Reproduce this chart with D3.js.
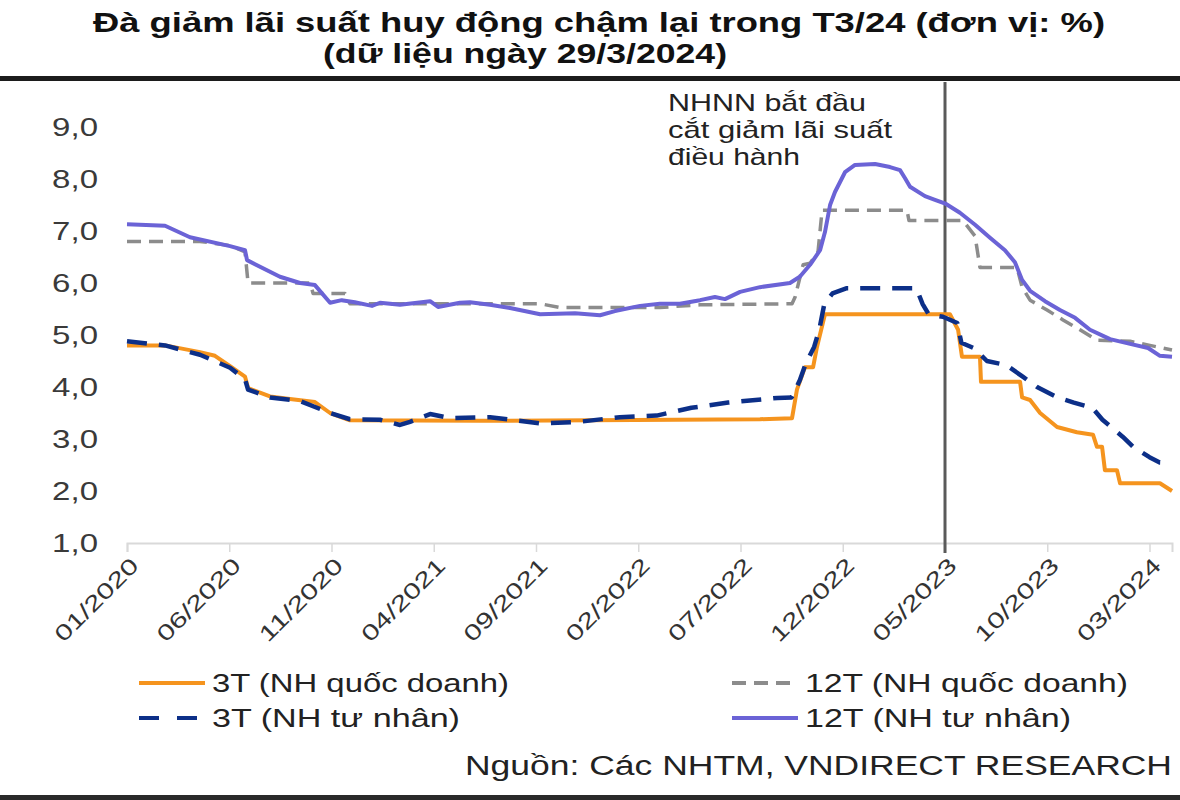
<!DOCTYPE html>
<html><head><meta charset="utf-8">
<script src="https://cdn.jsdelivr.net/npm/d3@7"></script>
<style>
body{margin:0;background:#fff}
svg{display:block}
text{font-family:"Liberation Sans", Arial, sans-serif}
</style>
</head><body>
<svg id="c" width="1180" height="800"></svg>
<script>
// ---- DATA (x = months since 01/2020) ----
const tickMonths = [0, 5, 10, 15, 20, 25, 30, 35, 40, 45, 50];
const tickLabels = ["01/2020","06/2020","11/2020","04/2021","09/2021","02/2022","07/2022","12/2022","05/2023","10/2023","03/2024"];
const yTicks = [1, 2, 3, 4, 5, 6, 7, 8, 9];
const yTickLabels = ["1,0","2,0","3,0","4,0","5,0","6,0","7,0","8,0","9,0"];

const s3State = [[0,4.8],[1.86,4.8],[3.57,4.67],[4.3,4.6],[5.04,4.4],[5.77,4.2],[5.92,3.98],[6.99,3.82],[7.97,3.77],[9.19,3.71],[9.93,3.5],[10.9,3.36],[17.26,3.35],[30.95,3.38],[32.52,3.4],[32.76,3.95],[33.15,4.38],[33.55,4.38],[33.74,4.77],[34.13,5.4],[40.24,5.4],[40.64,5.1],[40.83,4.58],[41.71,4.58],[41.76,4.1],[43.67,4.1],[43.77,3.8],[44.16,3.75],[44.65,3.5],[45.48,3.23],[46.45,3.13],[47.24,3.08],[47.43,2.85],[47.68,2.85],[47.82,2.4],[48.41,2.4],[48.56,2.15],[50.51,2.15],[51.1,2.0]];

const s12State = [[0,6.8],[3.57,6.8],[5.04,6.72],[5.77,6.6],[5.92,6.0],[8.95,6.0],[9.1,5.8],[10.66,5.8],[10.9,5.6],[20.2,5.6],[21.17,5.53],[26.06,5.53],[28.02,5.58],[32.52,5.6],[32.67,5.73],[33.06,6.35],[33.4,6.38],[33.79,6.6],[33.99,7.4],[38.14,7.4],[38.24,7.2],[40.88,7.2],[41.47,6.9],[41.71,6.3],[43.52,6.3],[43.77,5.92],[44.16,5.67],[44.99,5.48],[45.77,5.29],[46.6,5.1],[47.43,4.9],[49.05,4.88],[50.02,4.8],[51.1,4.71]];

const s3Private = [[0,4.88],[1.86,4.8],[3.57,4.62],[5.04,4.37],[5.77,4.15],[5.92,3.95],[6.99,3.8],[8.46,3.73],[9.93,3.5],[10.9,3.38],[12.37,3.37],[13.35,3.27],[13.84,3.33],[14.82,3.48],[15.8,3.4],[17.75,3.42],[20.2,3.3],[22.1,3.33],[24.1,3.42],[25.9,3.45],[27.6,3.6],[29.4,3.7],[31.8,3.79],[32.5,3.8],[32.9,4.13],[33.2,4.46],[33.6,4.77],[33.85,5.1],[34.1,5.6],[34.5,5.8],[35.2,5.9],[38.6,5.9],[38.9,5.6],[39.2,5.4],[39.9,5.35],[40.6,5.23],[40.8,4.85],[41.4,4.75],[42.05,4.5],[43.0,4.42],[43.8,4.2],[44.5,4.0],[45.5,3.8],[46.3,3.7],[47.2,3.6],[47.7,3.37],[48.7,3.04],[49.2,2.85],[50.0,2.65],[50.5,2.55],[51.1,2.54]];

const s12Private = [[0,7.13],[1.86,7.1],[3.08,6.88],[5.04,6.71],[5.77,6.63],[5.87,6.44],[7.48,6.12],[8.46,6.0],[9.19,5.96],[9.93,5.62],[10.5,5.67],[11.14,5.63],[11.98,5.56],[12.37,5.62],[13.35,5.58],[14.82,5.65],[15.21,5.54],[16.28,5.62],[16.77,5.63],[17.75,5.58],[18.73,5.52],[20.2,5.4],[21.91,5.42],[23.13,5.38],[23.86,5.46],[25.09,5.56],[26.06,5.6],[27.04,5.6],[28.02,5.67],[28.75,5.73],[29.24,5.69],[29.98,5.83],[30.95,5.92],[32.42,6.0],[32.9,6.12],[33.4,6.35],[33.89,6.63],[34.13,6.98],[34.38,7.5],[34.62,7.75],[35.11,8.13],[35.6,8.27],[36.58,8.29],[37.31,8.23],[37.8,8.17],[38.04,8.02],[38.29,7.85],[39.02,7.67],[39.51,7.6],[40.05,7.52],[40.73,7.35],[41.47,7.12],[42.2,6.87],[42.93,6.63],[43.42,6.4],[43.77,6.06],[44.16,5.85],[44.89,5.65],[45.62,5.48],[46.36,5.33],[47.09,5.1],[48.07,4.92],[49.05,4.83],[49.93,4.75],[50.51,4.6],[51.1,4.58]];

const seriesNames = ["3T (NH quốc doanh)","12T (NH quốc doanh)","3T (NH tư nhân)","12T (NH tư nhân)"];
const eventMonth = 40;
const annotationLines = ["NHNN bắt đầu","cắt giảm lãi suất","điều hành"];
const titleLines = ["Đà giảm lãi suất huy động chậm lại trong T3/24 (đơn vị: %)","(dữ liệu ngày 29/3/2024)"];
const sourceText = "Nguồn: Các NHTM, VNDIRECT RESEARCH";

// ---- CHART ----
const svg = d3.select("#c");
const x = d3.scaleLinear().domain([0, 51.1]).range([127, 1172]);
const y = d3.scaleLinear().domain([1, 9]).range([543, 127]);
const fit = (sel, w) => sel.attr("textLength", w).attr("lengthAdjust", "spacingAndGlyphs");

// title
fit(svg.append("text").attr("x", 599).attr("y", 32).attr("text-anchor","middle")
  .attr("font-size", 28).attr("font-weight","bold").attr("fill","#111").text(titleLines[0]), 1012);
fit(svg.append("text").attr("x", 525).attr("y", 63).attr("text-anchor","middle")
  .attr("font-size", 28).attr("font-weight","bold").attr("fill","#111").text(titleLines[1]), 404);
svg.append("rect").attr("x",0).attr("y",76).attr("width",1180).attr("height",5).attr("fill","#1c1c1c");
svg.append("rect").attr("x",0).attr("y",795).attr("width",1180).attr("height",5).attr("fill","#2a2a2a");

// y labels
const ylab = svg.append("g");
yTicks.forEach((v,i) => {
  const t = ylab.append("text").attr("x", 98).attr("y", y(v)).attr("dy","0.36em")
    .attr("text-anchor","end").attr("font-size", 25).attr("fill","#3a3a3a").text(yTickLabels[i]);
  fit(t, t.node().getComputedTextLength()*1.32);
});

// x axis
const xAxis = d3.axisBottom(x).tickValues(tickMonths).tickSize(9).tickFormat("");
const gx = svg.append("g").attr("transform","translate(0,543)").call(xAxis);
gx.select(".domain").attr("stroke","#d9d9d9").attr("stroke-width",2);
gx.selectAll(".tick line").attr("stroke","#d9d9d9").attr("stroke-width",1.5);
tickMonths.forEach((m,i) => {
  const t = svg.append("text").attr("transform",`translate(${x(m)+2},556) rotate(-45)`)
    .attr("text-anchor","end").attr("dy","0.7em").attr("font-size", 22).attr("fill","#333").text(tickLabels[i]);
  fit(t, 108);
});

// vertical event line
svg.append("line").attr("x1", x(eventMonth)).attr("x2", x(eventMonth)).attr("y1", 82).attr("y2", 553)
  .attr("stroke","#5a5a5a").attr("stroke-width",3);

// annotation
const annW = [198, 224, 132];
annotationLines.forEach((s,i) => {
  fit(svg.append("text").attr("x", 668).attr("y", 111 + i*27).attr("font-size", 24).attr("fill","#222").text(s), annW[i]);
});

// lines
const line = d3.line().x(d => x(d[0])).y(d => y(d[1]));
const styles = [
  {data: s12State, color:"#8c8c8c", w:3.5, dash:"14,8"},
  {data: s12Private, color:"#6b63d6", w:4, dash:null},
  {data: s3State, color:"#f5941e", w:4, dash:null},
  {data: s3Private, color:"#0c2f88", w:4.5, dash:"20,12"},
];
styles.forEach(s => {
  svg.append("path").datum(s.data).attr("d", line).attr("fill","none")
    .attr("stroke", s.color).attr("stroke-width", s.w).attr("stroke-linejoin","round")
    .attr("stroke-dasharray", s.dash);
});

// legend
const leg = [
  {name: seriesNames[0], color:"#f5941e", dash:null, x:139, y:683, w:297},
  {name: seriesNames[1], color:"#8c8c8c", dash:"14,8", x:732, y:683, w:323},
  {name: seriesNames[2], color:"#0c2f88", dash:"20,18", x:139, y:718, w:248},
  {name: seriesNames[3], color:"#6b63d6", dash:null, x:732, y:718, w:266},
];
leg.forEach(l => {
  svg.append("line").attr("x1", l.x).attr("x2", l.x+66).attr("y1", l.y).attr("y2", l.y)
    .attr("stroke", l.color).attr("stroke-width", 4).attr("stroke-dasharray", l.dash);
  fit(svg.append("text").attr("x", l.x+73).attr("y", l.y).attr("dy","0.36em")
    .attr("font-size", 26).attr("fill","#222").text(l.name), l.w);
});

// source
fit(svg.append("text").attr("x", 1172).attr("y", 775).attr("text-anchor","end")
  .attr("font-size", 27).attr("fill","#222").text(sourceText), 707);
</script>
</body></html>
